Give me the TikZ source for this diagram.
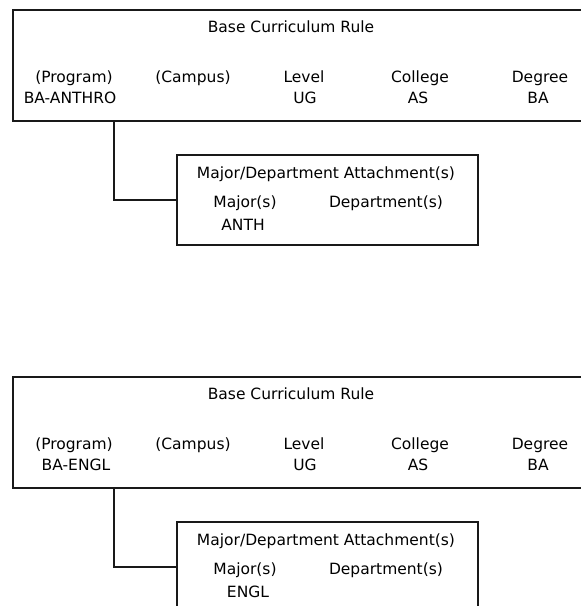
\documentclass[tikz,border=0pt]{standalone}
\usepackage{fontspec}
\setmainfont{DejaVu Sans}
\begin{document}
\begin{tikzpicture}[x=1pt,y=-1pt,
  framebox/.style={draw=black!90,line width=1.6pt,rectangle,anchor=north west,inner sep=0pt},
  lbl/.style={inner sep=0pt,anchor=base,font=\fontsize{15.5}{17}\selectfont},
  link/.style={draw=black!90,line width=1.6pt}]
\useasboundingbox (0,0) rectangle (581,606);
\clip (0,0) rectangle (581,606);
% two curriculum rules, each with an attached major/department box
\foreach \dy/\prog/\progx/\major/\majx/\i in {0/BA-ANTHRO/70/ANTH/243/a, 367/BA-ENGL/76/ENGL/248/b}{
  \begin{scope}[shift={(0,\dy)}]
    \node[framebox,minimum width=580pt,minimum height=111pt] (rule\i) at (12,9) {};
    \node[lbl] (title\i) at (291,32.5) {Base Curriculum Rule};
    \node[lbl] (hprog\i) at (74,82.5) {(Program)};
    \node[lbl] (hcamp\i) at (193,82.5) {(Campus)};
    \node[lbl] (hlev\i) at (304,82.5) {Level};
    \node[lbl] (hcol\i) at (420,82.5) {College};
    \node[lbl] (hdeg\i) at (540,82.5) {Degree};
    \node[lbl] (vprog\i) at (\progx,103.5) {\prog};
    \node[lbl] (vlev\i) at (305,103.5) {UG};
    \node[lbl] (vcol\i) at (418,103.5) {AS};
    \node[lbl] (vdeg\i) at (538,103.5) {BA};
    \node[framebox,minimum width=301pt,minimum height=90pt] (att\i) at (176,154) {};
    \node[lbl] (atitle\i) at (326,178.5) {Major/Department Attachment(s)};
    \node[lbl] (hmaj\i) at (245,207.5) {Major(s)};
    \node[lbl] (hdep\i) at (386,207.5) {Department(s)};
    \node[lbl] (vmaj\i) at (\majx,230.5) {\major};
    \coordinate (drop\i) at ([xshift=102pt]rule\i.south west);
    \draw[link] (drop\i) |- (att\i.west);
  \end{scope}
}
\end{tikzpicture}
\end{document}
